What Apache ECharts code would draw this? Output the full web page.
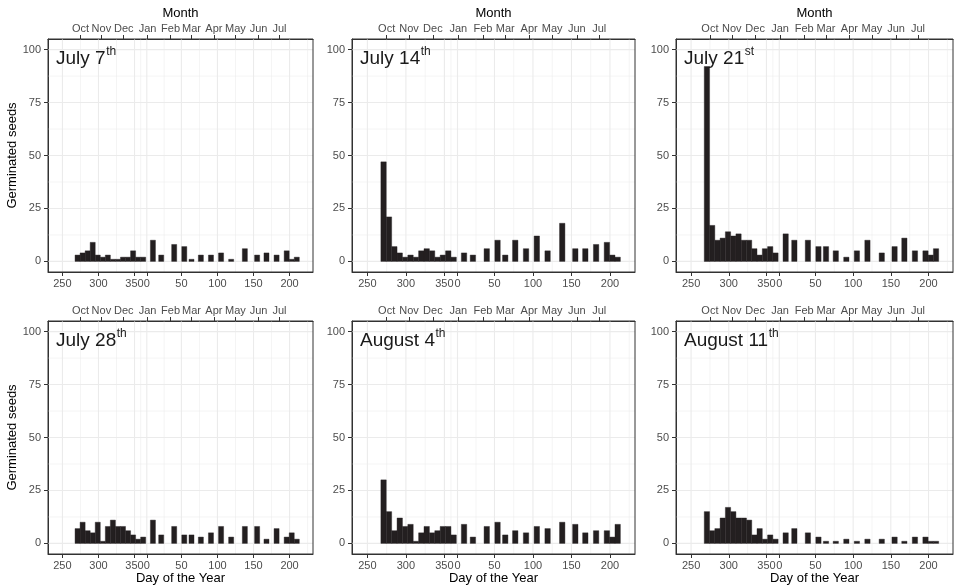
<!DOCTYPE html>
<html>
<head>
<meta charset="utf-8">
<script src="https://cdn.jsdelivr.net/npm/echarts@6/dist/echarts.min.js"></script>
<style>
html, body { margin: 0; padding: 0; background: #ffffff; }
#chart { width: 957px; height: 585px; }
</style>
</head>
<body>
<div id="chart"></div>
<script>
// ---- data (x = continuous day of year; after Dec the count continues past 365) ----
const dayCenters = [271, 278, 285, 292, 299, 306, 313, 320, 327, 334, 341, 348, 355, 362,
                    375.5, 387, 405, 419, 429, 442, 456, 470, 484, 503, 520, 533, 547, 561, 568, 575];

const july07 = [3, 4, 5, 9, 3, 2, 3, 1, 1, 2, 2, 5, 2, 2,
                10, 3, 8, 7, 1, 3, 3, 4, 1, 6, 3, 4, 3, 5, 1, 2];
const july14 = [47, 21, 7, 4, 2, 3, 2, 5, 6, 5, 2, 3, 5, 2,
                4, 3, 6, 10, 3, 10, 6, 12, 5, 18, 6, 6, 8, 9, 3, 2];
const july21 = [92, 17, 10, 11, 14, 12, 13, 10, 10, 6, 3, 6, 7, 4,
                13, 10, 10, 7, 7, 5, 2, 5, 10, 4, 7, 11, 5, 5, 3, 6];
const july28 = [7, 10, 6, 5, 10, 1, 8, 11, 8, 8, 6, 4, 2, 3,
                11, 4, 8, 4, 4, 3, 5, 8, 3, 8, 8, 2, 7, 3, 5, 2];
const aug04  = [30, 15, 6, 12, 8, 9, 1, 5, 8, 5, 6, 8, 8, 4,
                9, 3, 8, 10, 4, 6, 5, 8, 7, 10, 9, 5, 6, 6, 3, 9];
const aug11  = [15, 6, 7, 12, 17, 15, 12, 12, 11, 4, 7, 2, 4, 2,
                5, 7, 5, 3, 1, 1, 2, 1, 2, 2, 3, 1, 3, 3, 1, 1];

const panelSeries = [july07, july14, july21, july28, aug04, aug11];
const panelLabels = ['July 7', 'July 14', 'July 21', 'July 28', 'August 4', 'August 11'];
const panelSuffix = ['th', 'th', 'st', 'th', 'th', 'th'];

const dayBreaks = [250, 300, 350, 367, 415, 465, 515, 565];
const dayBreakLabels = ['250', '300', '350', '0', '50', '100', '150', '200'];
const dayMinorBreaks = [275, 325, 358.5, 391, 440, 490, 540, 590];
const monthTicks = [275, 304, 335, 368, 400, 429, 460, 490, 522, 551];
const monthLabels = ['Oct', 'Nov', 'Dec', 'Jan', 'Feb', 'Mar', 'Apr', 'May', 'Jun', 'Jul'];
const seedTicks = [0, 25, 50, 75, 100];
const seedMinorTicks = [12.5, 37.5, 62.5, 87.5];

// ---- layout / style ----
const X_MIN = 230, X_MAX = 597.5, Y_MIN = -5, Y_MAX = 105;
const BAR_HALF = 3.5;
const colLeft = [48, 352, 676];
const colWidth = [265, 283, 277];
const rowTop = [39, 321];
const rowHeight = 233;
const FONT = '"Liberation Sans", Arial, Helvetica, sans-serif';
const BAR_COLOR = '#231f20';
const GRID_COLOR = '#ebebeb';
const TICK_TEXT = '#4d4d4d';
const FRAME = '#333333';

const gridItems = [].concat(
  dayBreaks.map(v => [v, 0, 1]),
  dayMinorBreaks.map(v => [v, 0, 0]),
  seedTicks.map(v => [v, 1, 1]),
  seedMinorTicks.map(v => [v, 1, 0])
);

function renderGridLine(params, api) {
  const v = api.value(0), dir = api.value(1), major = api.value(2);
  let p0, p1;
  if (dir === 0) { p0 = api.coord([v, Y_MIN]); p1 = api.coord([v, Y_MAX]); }
  else { p0 = api.coord([X_MIN, v]); p1 = api.coord([X_MAX, v]); }
  return {
    type: 'line', silent: true,
    shape: { x1: p0[0], y1: p0[1], x2: p1[0], y2: p1[1] },
    style: { stroke: GRID_COLOR, lineWidth: major ? 1.1 : 0.55 }
  };
}

function renderBar(params, api) {
  const d = api.value(0), v = api.value(1);
  const a = api.coord([d - BAR_HALF, 0]);
  const b = api.coord([d + BAR_HALF, v]);
  return {
    type: 'rect',
    shape: { x: a[0], y: b[1], width: b[0] - a[0], height: a[1] - b[1] },
    style: { fill: BAR_COLOR, stroke: BAR_COLOR, lineWidth: 0.4 }
  };
}

const grids = [], xAxes = [], yAxes = [], series = [], graphics = [];

const measureCtx = document.createElement('canvas').getContext('2d');
function textWidth(txt, size) {
  measureCtx.font = size + 'px ' + FONT;
  return measureCtx.measureText(txt).width;
}

function axisLineCfg() {
  return { show: true, onZero: false, lineStyle: { color: FRAME, width: 1 } };
}

panelSeries.forEach((vals, i) => {
  const row = Math.floor(i / 3), col = i % 3;
  grids.push({
    left: colLeft[col], top: rowTop[row], width: colWidth[col], height: rowHeight,
    show: true, borderColor: FRAME, borderWidth: 1, backgroundColor: 'transparent',
    z: 10, containLabel: false, outerBoundsMode: 'none'
  });
  // bottom day axis
  xAxes.push({
    type: 'value', gridIndex: i, position: 'bottom', min: X_MIN, max: X_MAX,
    axisLine: axisLineCfg(),
    axisTick: { show: true, inside: false, customValues: dayBreaks, length: 4, lineStyle: { color: FRAME, width: 1 } },
    axisLabel: { customValues: dayBreaks, formatter: v => dayBreakLabels[dayBreaks.indexOf(v)],
                 color: TICK_TEXT, fontSize: 11, margin: 6, hideOverlap: false },
    splitLine: { show: false },
    name: row === 1 ? 'Day of the Year' : '', nameLocation: 'middle', nameGap: 16,
    nameTextStyle: { fontSize: 13, color: '#000000' }
  });
  // top month axis
  xAxes.push({
    type: 'value', gridIndex: i, position: 'top', min: X_MIN, max: X_MAX,
    axisLine: axisLineCfg(),
    axisTick: { show: true, inside: false, customValues: monthTicks, length: 4, lineStyle: { color: FRAME, width: 1 } },
    axisLabel: { customValues: monthTicks, formatter: v => monthLabels[monthTicks.indexOf(v)],
                 color: TICK_TEXT, fontSize: 11, margin: 5, hideOverlap: false },
    splitLine: { show: false },
    name: row === 0 ? 'Month' : '', nameLocation: 'middle', nameGap: 19,
    nameTextStyle: { fontSize: 13, color: '#000000' }
  });
  yAxes.push({
    type: 'value', gridIndex: i, min: Y_MIN, max: Y_MAX,
    axisLine: axisLineCfg(),
    axisTick: { show: true, inside: false, customValues: seedTicks, length: 4, lineStyle: { color: FRAME, width: 1 } },
    axisLabel: { customValues: seedTicks, color: TICK_TEXT, fontSize: 11, margin: 7, hideOverlap: false },
    splitLine: { show: false },
    name: col === 0 ? 'Germinated seeds' : '', nameLocation: 'middle', nameGap: 28,
    nameTextStyle: { fontSize: 13, color: '#000000' }
  });
  series.push({
    type: 'custom', xAxisIndex: 2 * i, yAxisIndex: i, z: 1, silent: true,
    renderItem: renderGridLine, data: gridItems
  });
  series.push({
    type: 'custom', xAxisIndex: 2 * i, yAxisIndex: i, z: 2,
    renderItem: renderBar,
    data: dayCenters.map((d, k) => [d, vals[k]])
  });
  const tx = colLeft[col] + 8;
  const ty = rowTop[row] + 10;
  graphics.push({
    type: 'text', x: tx, y: ty, z: 20,
    style: { text: panelLabels[i], font: '19px ' + FONT, fill: '#1a1a1a', textVerticalAlign: 'top' }
  });
  graphics.push({
    type: 'text', x: tx + textWidth(panelLabels[i], 19) + 0.5, y: ty - 3, z: 20,
    style: { text: panelSuffix[i], font: '12px ' + FONT, fill: '#1a1a1a', textVerticalAlign: 'top' }
  });
});

const chart = echarts.init(document.getElementById('chart'), null, { renderer: 'canvas' });
chart.setOption({
  animation: false,
  backgroundColor: '#ffffff',
  textStyle: { fontFamily: FONT },
  grid: grids,
  xAxis: xAxes,
  yAxis: yAxes,
  series: series,
  graphic: graphics
});
</script>
</body>
</html>
